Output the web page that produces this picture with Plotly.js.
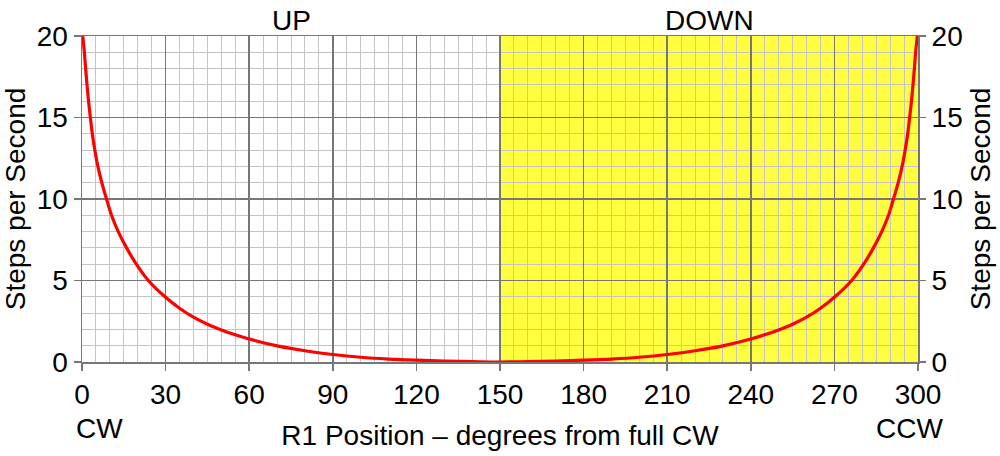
<!DOCTYPE html>
<html>
<head>
<meta charset="utf-8">
<script src="https://cdn.plot.ly/plotly-3.0.1.min.js"></script>
<style>
  html, body { margin: 0; padding: 0; background: #fff; }
  #chart { width: 1000px; height: 456px; }
</style>
</head>
<body>
<div id="chart"></div>
<script>
// R1 position (degrees from full CW) and stepping rate
const positions = [0, 0.85, 1.3, 1.8, 2.35, 3, 3.7, 4.6, 5.7, 7.1, 8.8, 10.6, 13, 16, 19.5, 23.8, 29.8, 35, 40, 45, 50, 55, 60, 70, 80, 90, 100, 110, 120, 130, 140, 150,
                   160, 170, 180, 190, 200, 210, 220, 230, 240, 245, 250, 255, 260, 265, 270.2, 276.2, 280.5, 284, 287, 289.4, 291.2, 292.9, 294.3, 295.4, 296.3, 297, 297.65, 298.2, 298.7, 299.15, 300];
const stepsPerSecond = [20.4, 19, 18, 17, 16, 15, 14, 13, 12, 11, 10, 9, 8, 7, 6, 5, 4, 3.3, 2.75, 2.32, 1.97, 1.67, 1.41, 0.99, 0.69, 0.46, 0.29, 0.18, 0.11, 0.06, 0.025, 0,
                        0.025, 0.06, 0.11, 0.18, 0.29, 0.46, 0.69, 0.99, 1.41, 1.67, 1.97, 2.32, 2.75, 3.3, 4, 5, 6, 7, 8, 9, 10, 11, 12, 13, 14, 15, 16, 17, 18, 19, 20.4];

// shaded "DOWN" half and the region labels
const downRange = [150, 300];
const regionLabels = ['UP', 'DOWN'];
const regionCentres = [75, 225];
const endLabels = ['CW', 'CCW'];

const xTicks = [0, 30, 60, 90, 120, 150, 180, 210, 240, 270, 300];
const yTicks = [0, 5, 10, 15, 20];

const FONT = 'Liberation Sans, Arial, sans-serif';
const MAJOR = '#777777';
const MINOR = '#c4c4c4';

const curve = {
    x: positions,
    y: stepsPerSecond,
    type: 'scatter',
    mode: 'lines',
    line: { color: '#ff0000', width: 3.2, shape: 'spline', smoothing: 1 },
    hoverinfo: 'skip'
};

// invisible point so the right-hand axis has something to hang on
const rightAxisHolder = {
    x: [xTicks[0]],
    y: [yTicks[0]],
    yaxis: 'y2',
    type: 'scatter',
    mode: 'markers',
    marker: { opacity: 0 },
    hoverinfo: 'skip'
};

const yAxisBase = {
    range: [0, 20],
    tickvals: yTicks,
    ticks: 'outside',
    ticklen: 7,
    tickcolor: MAJOR,
    tickwidth: 1.5,
    tickfont: { size: 28, color: '#000' },
    zeroline: false,
    fixedrange: true
};

const layout = {
    width: 1000,
    height: 456,
    margin: { l: 82, r: 82, t: 36, b: 94 },
    paper_bgcolor: '#ffffff',
    plot_bgcolor: '#ffffff',
    font: { family: FONT, color: '#000' },
    showlegend: false,
    xaxis: {
        range: [0, 300],
        tickvals: xTicks,
        ticks: 'outside',
        ticklen: 7,
        tickcolor: MAJOR,
        tickwidth: 1.5,
        tickfont: { size: 28, color: '#000' },
        showgrid: true,
        gridcolor: MAJOR,
        gridwidth: 1.5,
        minor: { dtick: 5, showgrid: true, gridcolor: MINOR, gridwidth: 1 },
        showline: true,
        linecolor: MAJOR,
        linewidth: 1.5,
        mirror: true,
        zeroline: false,
        layer: 'below traces',
        title: { text: 'R1 Position \u2013 degrees from full CW', font: { size: 28 }, standoff: 16 }
    },
    yaxis: Object.assign({}, yAxisBase, {
        showgrid: true,
        gridcolor: MAJOR,
        gridwidth: 1.5,
        minor: { dtick: 1, showgrid: true, gridcolor: MINOR, gridwidth: 1 },
        showline: true,
        linecolor: MAJOR,
        linewidth: 1.5,
        mirror: true,
        layer: 'below traces',
        title: { text: 'Steps per Second', font: { size: 28 }, standoff: 8 }
    }),
    yaxis2: Object.assign({}, yAxisBase, {
        overlaying: 'y',
        side: 'right',
        showgrid: false,
        showline: false,
        title: { text: 'Steps per Second', font: { size: 28 }, standoff: 8 }
    }),
    shapes: [{
        type: 'rect',
        xref: 'x', yref: 'y',
        x0: downRange[0], x1: downRange[1], y0: 0, y1: 20,
        fillcolor: '#ffff40',
        line: { width: 0 },
        layer: 'below'
    }],
    annotations: [
        ...regionLabels.map((t, i) => ({
            text: t, x: regionCentres[i], xref: 'x',
            y: 1.05, yref: 'paper', yanchor: 'middle', yshift: -1,
            showarrow: false, font: { size: 28, color: '#000' }
        })),
        {
            text: endLabels[0], x: xTicks[0], xref: 'x', xanchor: 'left', xshift: -8,
            y: -0.205, yref: 'paper', yanchor: 'middle',
            showarrow: false, font: { size: 28, color: '#000' }
        },
        {
            text: endLabels[1], x: xTicks[xTicks.length - 1], xref: 'x', xanchor: 'right', xshift: 27,
            y: -0.205, yref: 'paper', yanchor: 'middle',
            showarrow: false, font: { size: 28, color: '#000' }
        }
    ]
};

Plotly.newPlot('chart', [curve, rightAxisHolder], layout, { displayModeBar: false, staticPlot: true });
</script>
</body>
</html>
